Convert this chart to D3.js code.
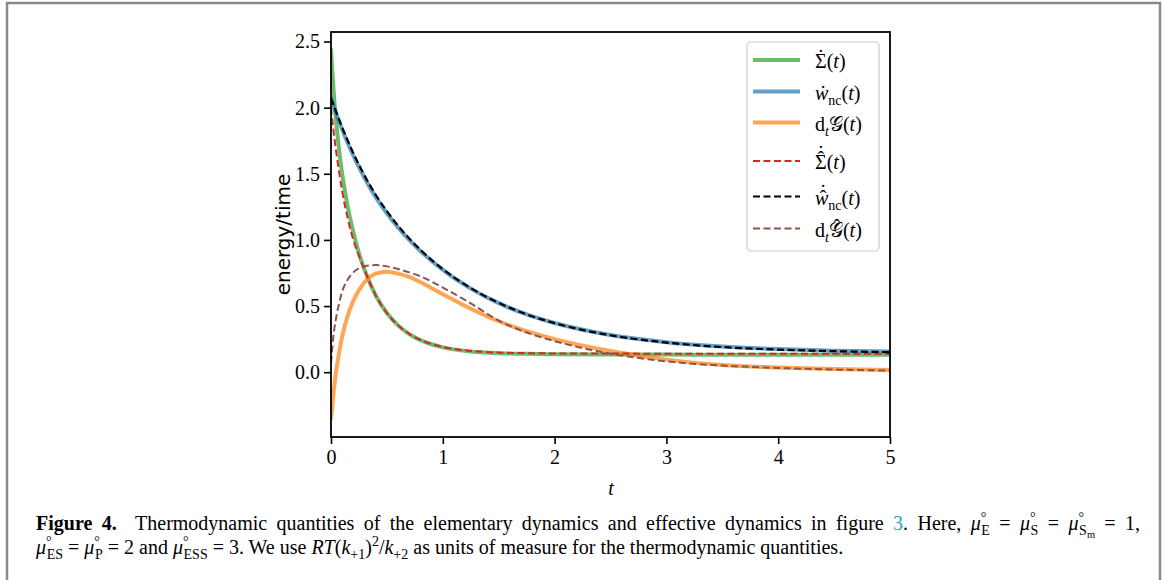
<!DOCTYPE html>
<html>
<head>
<meta charset="utf-8">
<script src="https://cdn.jsdelivr.net/npm/d3@7"></script>
<style>
  body { margin: 0; background: #fff; }
  svg { display: block; }
  text { white-space: pre; }
</style>
</head>
<body>
<div id="fig"></div>
<script>
// time grid shared by all curves
var tGrid = [0, 0.01, 0.02, 0.03, 0.05, 0.075, 0.1, 0.15, 0.2, 0.25, 0.3, 0.4, 0.5, 0.6, 0.7, 0.8, 1.0, 1.25, 1.5, 1.75, 2.0, 2.5, 3.0, 3.5, 4.0, 4.5, 5.0];

// elementary dynamics (solid)
var sigmaDot = [2.44, 2.29, 2.17, 2.05, 1.86, 1.66, 1.50, 1.25, 1.06, 0.90, 0.775, 0.58, 0.448, 0.354, 0.288, 0.242, 0.188, 0.157, 0.144, 0.139, 0.136, 0.134, 0.133, 0.132, 0.132, 0.132, 0.132];
var wncDot   = [2.07, 2.045, 2.021, 1.997, 1.949, 1.891, 1.835, 1.733, 1.637, 1.55, 1.468, 1.324, 1.202, 1.094, 1.0, 0.916, 0.773, 0.632, 0.522, 0.437, 0.372, 0.281, 0.227, 0.194, 0.175, 0.163, 0.156];
var dtG      = [-0.35, -0.27, -0.18, -0.10, 0.03, 0.16, 0.27, 0.43, 0.54, 0.62, 0.68, 0.745, 0.76, 0.745, 0.72, 0.68, 0.59, 0.48, 0.385, 0.31, 0.25, 0.16, 0.095, 0.055, 0.036, 0.025, 0.017];

// effective dynamics (dashed)
var sigmaHat = [2.0, 1.92, 1.845, 1.775, 1.645, 1.50, 1.37, 1.16, 1.0, 0.88, 0.772, 0.581, 0.447, 0.354, 0.29, 0.244, 0.191, 0.161, 0.148, 0.144, 0.142, 0.141, 0.14, 0.14, 0.14, 0.14, 0.14];
var wncHat   = [2.07, 2.048, 2.026, 2.004, 1.959, 1.904, 1.85, 1.75, 1.655, 1.568, 1.486, 1.341, 1.217, 1.107, 1.011, 0.925, 0.779, 0.636, 0.524, 0.437, 0.371, 0.279, 0.224, 0.19, 0.171, 0.159, 0.152];
var dtGHat   = [0.07, 0.17, 0.26, 0.33, 0.43, 0.53, 0.61, 0.70, 0.755, 0.785, 0.80, 0.81, 0.80, 0.78, 0.755, 0.725, 0.64, 0.52, 0.39, 0.30, 0.235, 0.14, 0.082, 0.05, 0.032, 0.02, 0.012];

var xTicks = [0, 1, 2, 3, 4, 5];
var yTicks = [0, 0.5, 1.0, 1.5, 2.0, 2.5];

var W = 1165, H = 580;
var serif = "'Liberation Serif', 'Times New Roman', serif";

var svg = d3.select("#fig").append("svg").attr("width", W).attr("height", H);

// page frame
svg.append("rect").attr("x", 7).attr("y", 3).attr("width", 1153).attr("height", 640)
  .attr("fill", "none").attr("stroke", "#8a8a8a").attr("stroke-width", 2.5);

var x = d3.scaleLinear().domain([0, 5]).range([331, 890]);
var y = d3.scaleLinear().domain([-0.49, 2.572]).range([437, 32]);

svg.append("clipPath").attr("id", "clip").append("rect")
  .attr("x", 331).attr("y", 32).attr("width", 559).attr("height", 405);

var line = function(vals) {
  return d3.line().curve(d3.curveMonotoneX)
    .x(function(d, i) { return x(tGrid[i]); })
    .y(function(d) { return y(d); })(vals);
};

// small math-ish labels made of tspans, accents placed on top afterwards
function rich(sel, segs, size) {
  var off = 0, accents = [];
  segs.forEach(function(s) {
    var tgt = s.sub ? 0.25 * size : s.sub2 ? 0.42 * size : s.sup ? -0.38 * size : 0;
    var ts = sel.append("tspan").text(s.t).attr("dy", tgt - off);
    off = tgt;
    if (s.sub || s.sup) ts.attr("font-size", size * 0.7);
    if (s.sub2) ts.attr("font-size", size * 0.52);
    if (s.i) ts.attr("font-style", "italic");
    if (s.b) ts.attr("font-weight", "bold");
    if (s.dx) ts.attr("dx", s.dx);
    if (s.fill) ts.attr("fill", s.fill);
    if (s.acc) accents.push({ node: ts.node(), acc: s.acc, skew: s.skew || 0 });
  });
  var parent = d3.select(sel.node().parentNode);
  var base = +sel.attr("y");
  accents.forEach(function(a) {
    var bb = a.node.getBBox();
    var cx = bb.x + bb.width / 2 + a.skew;
    a.acc.forEach(function(c) {
      parent.append("text").attr("x", cx).attr("y", base + c.dy)
        .attr("text-anchor", "middle").attr("font-family", serif)
        .attr("font-size", size).text(c.ch);
    });
  });
}

var HAT = "\u02C6", DOT = "\u02D9";
var series = [
  { vals: sigmaDot, color: "#2ca02c", op: 0.7, w: 4, dash: null,
    label: [{t: "\u03A3", acc: [{ch: DOT, dy: -4}]}, {t: "("}, {t: "t", i: 1}, {t: ")"}] },
  { vals: wncDot, color: "#1f77b4", op: 0.7, w: 4, dash: null,
    label: [{t: "w", i: 1, acc: [{ch: DOT, dy: 0}], skew: 1}, {t: "nc", sub: 1}, {t: "("}, {t: "t", i: 1}, {t: ")"}] },
  { vals: dtG, color: "#ff7f0e", op: 0.7, w: 4, dash: null,
    label: [{t: "d"}, {t: "t", i: 1, sub: 1}, {t: "\uD835\uDCA2"}, {t: "("}, {t: "t", i: 1}, {t: ")"}] },
  { vals: sigmaHat, color: "#d62728", op: 1, w: 2, dash: "7,3.5",
    label: [{t: "\u03A3", acc: [{ch: HAT, dy: -3}, {ch: DOT, dy: -9}]}, {t: "("}, {t: "t", i: 1}, {t: ")"}] },
  { vals: wncHat, color: "#000000", op: 1, w: 2.2, dash: "7,3.5",
    label: [{t: "w", i: 1, acc: [{ch: HAT, dy: 0}, {ch: DOT, dy: -6}], skew: 1}, {t: "nc", sub: 1}, {t: "("}, {t: "t", i: 1}, {t: ")"}] },
  { vals: dtGHat, color: "#8c564b", op: 1, w: 2, dash: "7,3.5",
    label: [{t: "d"}, {t: "t", i: 1, sub: 1}, {t: "\uD835\uDCA2", acc: [{ch: HAT, dy: -3}], skew: 1}, {t: "("}, {t: "t", i: 1}, {t: ")"}] }
];

var plot = svg.append("g").attr("clip-path", "url(#clip)");
series.forEach(function(s) {
  plot.append("path").attr("d", line(s.vals))
    .attr("fill", "none").attr("stroke", s.color).attr("stroke-opacity", s.op)
    .attr("stroke-width", s.w).attr("stroke-dasharray", s.dash)
    .attr("stroke-linecap", s.dash ? "butt" : "round");
});

// axes
var xAxis = svg.append("g").attr("transform", "translate(0,437)")
  .call(d3.axisBottom(x).tickValues(xTicks).tickFormat(d3.format("d")).tickSize(7).tickPadding(6));
var yAxis = svg.append("g").attr("transform", "translate(331,0)")
  .call(d3.axisLeft(y).tickValues(yTicks).tickFormat(d3.format(".1f")).tickSize(7).tickPadding(4));
[xAxis, yAxis].forEach(function(a) {
  a.select(".domain").remove();
  a.selectAll("line").attr("stroke", "#000").attr("stroke-width", 1.6);
  a.selectAll("text").attr("font-family", serif).attr("font-size", 20).attr("fill", "#000");
});

svg.append("rect").attr("x", 331).attr("y", 32).attr("width", 559).attr("height", 405)
  .attr("fill", "none").attr("stroke", "#000").attr("stroke-width", 1.8);

svg.append("text").attr("x", 611).attr("y", 495).attr("text-anchor", "middle")
  .attr("font-family", serif).attr("font-size", 20).attr("font-style", "italic").text("t");

svg.append("text").attr("transform", "translate(283,234.5) rotate(-90)")
  .attr("text-anchor", "middle").attr("dominant-baseline", "central")
  .attr("font-family", "'DejaVu Sans', sans-serif").attr("font-size", 20).text("energy/time");

// legend
var legRows = [60, 91.5, 122.5, 161, 196.5, 228.5];
var leg = svg.append("g");
leg.append("rect").attr("x", 747).attr("y", 42).attr("width", 132).attr("height", 209)
  .attr("rx", 4).attr("fill", "#fff").attr("fill-opacity", 0.8)
  .attr("stroke", "#cccccc").attr("stroke-width", 1.2);
series.forEach(function(s, i) {
  leg.append("line").attr("x1", 753).attr("x2", 800).attr("y1", legRows[i]).attr("y2", legRows[i])
    .attr("stroke", s.color).attr("stroke-opacity", s.op).attr("stroke-width", s.w)
    .attr("stroke-dasharray", s.dash);
  var tx = leg.append("text").attr("x", 815).attr("y", legRows[i] + 8)
    .attr("font-family", serif).attr("font-size", 20);
  rich(tx, s.label, 20);
});

// caption
var capSize = 20;
var cap1 = svg.append("text").attr("x", 36).attr("y", 530).attr("font-family", serif).attr("font-size", capSize);
rich(cap1, [
  {t: "Figure 4.", b: 1},
  {t: "  Thermodynamic quantities of the elementary dynamics and effective dynamics in figure "},
  {t: "3", fill: "#2a9fd8"},
  {t: ". Here, "},
  {t: "\u03BC", i: 1}, {t: "\u00B0", sup: 1}, {t: "E", sub: 1, dx: -5},
  {t: " = "},
  {t: "\u03BC", i: 1}, {t: "\u00B0", sup: 1}, {t: "S", sub: 1, dx: -5},
  {t: " = "},
  {t: "\u03BC", i: 1}, {t: "\u00B0", sup: 1}, {t: "S", sub: 1, dx: -5}, {t: "m", sub2: 1},
  {t: " = 1,"}
], capSize);
// justify the first caption line to the right margin
var w1 = cap1.node().getBBox().width;
var nSp = (cap1.text().match(/ /g) || []).length;
cap1.attr("word-spacing", Math.max(0, (1104 - w1) / nSp));

var cap2 = svg.append("text").attr("x", 36).attr("y", 554).attr("font-family", serif).attr("font-size", capSize);
rich(cap2, [
  {t: "\u03BC", i: 1}, {t: "\u00B0", sup: 1}, {t: "ES", sub: 1, dx: -5},
  {t: " = "},
  {t: "\u03BC", i: 1}, {t: "\u00B0", sup: 1}, {t: "P", sub: 1, dx: -5},
  {t: " = 2 and "},
  {t: "\u03BC", i: 1}, {t: "\u00B0", sup: 1}, {t: "ESS", sub: 1, dx: -5},
  {t: " = 3. We use "},
  {t: "RT", i: 1}, {t: "("}, {t: "k", i: 1}, {t: "+1", sub: 1}, {t: ")"}, {t: "2", sup: 1},
  {t: "/"}, {t: "k", i: 1}, {t: "+2", sub: 1},
  {t: " as units of measure for the thermodynamic quantities."}
], capSize);
</script>
</body>
</html>
